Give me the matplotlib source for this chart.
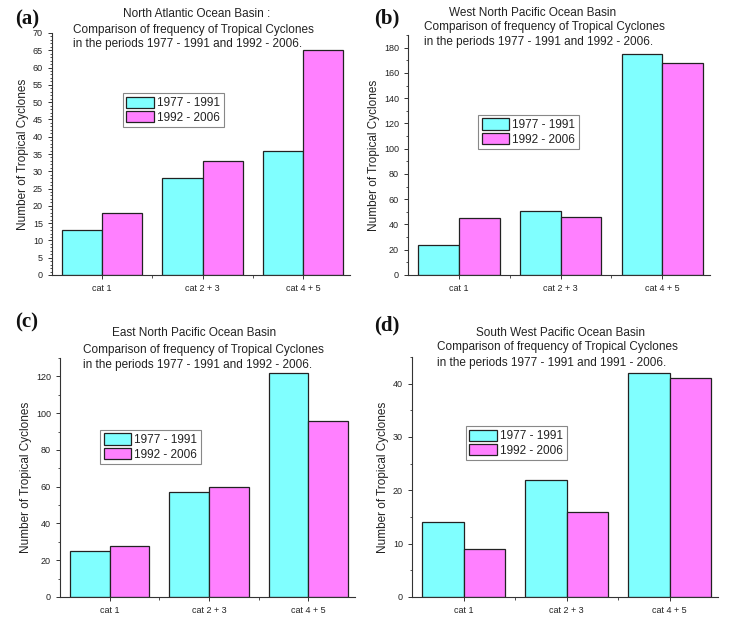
import numpy as np
import matplotlib
matplotlib.use('Agg')
import matplotlib.pyplot as plt
from matplotlib.ticker import MultipleLocator, FixedLocator

# Data
categories = ['cat 1', 'cat 2 + 3', 'cat 4 + 5']
series_labels = ['1977 - 1991', '1992 - 2006']

na_early = [13, 28, 36]
na_late = [18, 33, 65]
wnp_early = [24, 51, 175]
wnp_late = [45, 46, 168]
enp_early = [25, 57, 122]
enp_late = [28, 60, 96]
swp_early = [14, 22, 42]
swp_late = [9, 16, 41]

titles = [
    ['North Atlantic Ocean Basin :',
     'Comparison of frequency of Tropical Cyclones',
     'in the periods 1977 - 1991 and 1992 - 2006.'],
    ['West North Pacific Ocean Basin',
     'Comparison of frequency of Tropical Cyclones',
     'in the periods 1977 - 1991 and 1992 - 2006.'],
    ['East North Pacific Ocean Basin',
     'Comparison of frequency of Tropical Cyclones',
     'in the periods 1977 - 1991 and 1992 - 2006.'],
    ['South West Pacific Ocean Basin',
     'Comparison of frequency of Tropical Cyclones',
     'in the periods 1977 - 1991 and 1991 - 2006.'],
]
panel_letters = ['(a)', '(b)', '(c)', '(d)']

# Style
CYAN = '#80FFFF'
MAGENTA = '#FF80FF'
EDGE = '#222222'
TEXT = '#222222'
W, H = 733, 621

plt.rcParams['font.family'] = ['Liberation Sans', 'DejaVu Sans']

fig = plt.figure(figsize=(W / 100, H / 100), dpi=100)


def px(x, y):
    return x / W, 1 - y / H


def add_axes(x0, x1, y_top, y_bot):
    return fig.add_axes([x0 / W, 1 - y_bot / H, (x1 - x0) / W, (y_bot - y_top) / H])


# axes boxes in pixels: left, right, top, bottom
boxes = [(52, 350, 33, 275), (408, 710, 35, 275), (60, 355, 358, 597), (412, 718, 357, 597)]
data = [(na_early, na_late), (wnp_early, wnp_late), (enp_early, enp_late), (swp_early, swp_late)]
ylims = [70, 190, 130, 45]
majors = [5, 20, 20, 10]
minors = [1, 10, 10, 5]
legend_anchor = [(0.238, 0.752), (0.232, 0.667), (0.136, 0.699), (0.176, 0.7125)]

# title positions: (center x, y line1), (left x, y line2), y line3
title_pos = [((197, 14), (73, 30), 44), ((533, 13), (424, 27), 42),
             ((194, 333), (83, 350), 365), ((560, 333), (437, 347), 363)]
letter_pos = [(27, 19), (387, 18), (27, 322), (387, 325)]

x = np.arange(len(categories))
bw = 0.4

for i in range(4):
    ax = add_axes(*boxes[i])
    early, late = data[i]
    ax.bar(x - bw / 2, early, bw, color=CYAN, edgecolor=EDGE, linewidth=0.9,
           label=series_labels[0], zorder=2)
    ax.bar(x + bw / 2, late, bw, color=MAGENTA, edgecolor=EDGE, linewidth=0.9,
           label=series_labels[1], zorder=2)

    ax.set_xlim(-0.5, 2.47)
    ax.set_ylim(0, ylims[i])
    ax.spines['top'].set_visible(False)
    ax.spines['right'].set_visible(False)
    for s in ('left', 'bottom'):
        ax.spines[s].set_color('#333333')
        ax.spines[s].set_linewidth(0.8)

    ax.set_xticks(x)
    ax.set_xticklabels(categories, fontsize=6.5, color=TEXT)
    ax.xaxis.set_minor_locator(FixedLocator([0.5, 1.5]))
    ax.yaxis.set_major_locator(MultipleLocator(majors[i]))
    ax.yaxis.set_minor_locator(MultipleLocator(minors[i]))
    ax.tick_params(axis='both', which='major', direction='out', length=3,
                   width=0.7, labelsize=6.5, labelcolor=TEXT, color='#333333')
    ax.tick_params(axis='both', which='minor', direction='out', length=1.8,
                   width=0.6, color='#333333')
    ax.set_ylabel('Number of Tropical Cyclones', fontsize=8.5, color=TEXT, labelpad=3)

    leg = ax.legend(loc='upper left', bbox_to_anchor=legend_anchor[i], borderaxespad=0,
                    fontsize=8.5, fancybox=False, framealpha=1, edgecolor='#888888',
                    handlelength=2.3, handleheight=1.1, labelspacing=0.15,
                    handletextpad=0.3, borderpad=0.3)
    leg.get_frame().set_linewidth(0.8)
    for t in leg.get_texts():
        t.set_color(TEXT)

    (cx, cy), (lx, ly), ly3 = title_pos[i]
    fig.text(*px(cx, cy), titles[i][0], ha='center', va='center', fontsize=8.5, color=TEXT)
    fig.text(*px(lx, ly), titles[i][1], ha='left', va='center', fontsize=8.5, color=TEXT)
    fig.text(*px(lx, ly3), titles[i][2], ha='left', va='center', fontsize=8.5, color=TEXT)

    fig.text(*px(*letter_pos[i]), panel_letters[i], ha='center', va='center',
             fontsize=15, fontweight='bold', family=['Liberation Serif', 'DejaVu Serif'],
             color='#111111')

fig.savefig('out.png', dpi=100, facecolor='white')
